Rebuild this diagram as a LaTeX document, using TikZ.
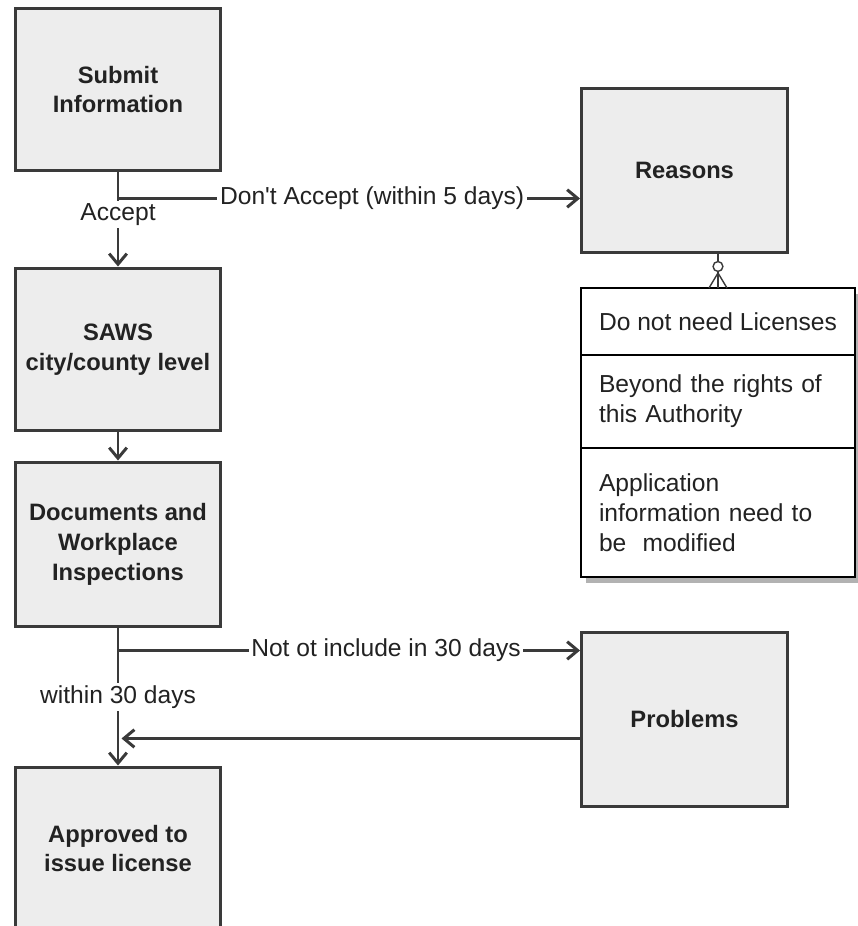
\documentclass[tikz,border=0pt]{standalone}
\usepackage{fontspec}
\setmainfont{Liberation Sans}
\usetikzlibrary{positioning, arrows.meta, backgrounds}

\definecolor{boxgray}{HTML}{EDEDED}
\definecolor{linegray}{HTML}{3A3A3A}
\definecolor{txtgray}{HTML}{222222}

\begin{document}
\begin{tikzpicture}[x=0.02cm, y=-0.02cm,
  stepbox/.style={draw=linegray, line width=1.7pt, fill=boxgray, minimum width=4.12cm,
    minimum height=3.26cm, align=center, text=txtgray,
    font=\fontsize{13.5}{17}\selectfont\bfseries},
  flow/.style={draw=linegray, line width=1.7pt,
    -{Straight Barb[length=6pt,width=10pt]}},
  lbl/.style={fill=white, inner sep=1.5pt, text=txtgray, font=\fontsize{14}{17}\selectfont},
  row/.style={draw=black, line width=1.5pt, fill=white, outer sep=0pt, minimum width=5.48cm,
    inner xsep=0.36cm, text=txtgray, font=\fontsize{14}{17}\selectfont}]

\useasboundingbox (0,0) rectangle (858,926);

% main column
\node[stepbox] (sub) at (118,89.5) {Submit\\Information};
\node[stepbox] (saws) at (118,349.5) {SAWS\\city/county level};
\node[stepbox, minimum height=3.3cm] (docs) at (118,544.5) {Documents and\\Workplace\\Inspections};
\node[stepbox] (appr) at (118,848.5) {Approved to\\issue license};

% right column
\node[stepbox, minimum height=3.3cm] (reasons) at (684.5,170.5) {Reasons};
\node[stepbox, minimum height=3.5cm] (prob) at (684.5,719.5) {Problems};

% list of reasons
\node[row, minimum height=1.34cm, anchor=north west] (tbl1) at (581,288) {Do not need Licenses};
\node[row, minimum height=1.86cm, text width=4.76cm, align=left, below=0pt of tbl1] (tbl2)
  {Beyond the rights of\\this Authority};
\node[row, minimum height=2.58cm, text width=4.76cm, align=left, below=0pt of tbl2] (tbl3)
  {Application\\information need to\\be\ \ modified};
\begin{scope}[on background layer]
\fill[black!30] ([shift={(5,6)}]tbl1.north west) rectangle ([shift={(5,6)}]tbl3.south east);
\end{scope}

% crow's foot
\coordinate (cf) at (tbl1.north);
\draw[linegray, line width=0.8pt] (reasons.south -| cf) -- (cf);
\draw[linegray, line width=0.8pt] (cf) ++(0,-15) -- ++(-9,15);
\draw[linegray, line width=0.8pt] (cf) ++(0,-15) -- ++(9,15);
\draw[linegray, line width=0.8pt, fill=white] (reasons.south -| cf) ++(0,12) circle (2.8pt);

% connectors
\path (sub.south) ++(0,26) coordinate (k1);
\path (docs.south) ++(0,22) coordinate (k2);
\path (docs.south) ++(0,110) coordinate (k3);

\draw[flow] (sub) -- node[lbl, yshift=3pt]{Accept} (saws);
\draw[flow] (k1) -- node[lbl, pos=0.55]{Don\textquotesingle t Accept (within 5 days)} (k1 -| reasons.west);
\draw[flow] (saws) -- (docs);
\draw[flow] (docs) -- node[lbl, pos=0.5]{within 30 days} (appr);
\draw[flow] (k2) -- node[lbl, pos=0.58]{Not ot include in 30 days} (k2 -| prob.west);
\draw[flow, shorten >=2pt] (k3 -| prob.west) -- (k3);

\end{tikzpicture}
\end{document}
